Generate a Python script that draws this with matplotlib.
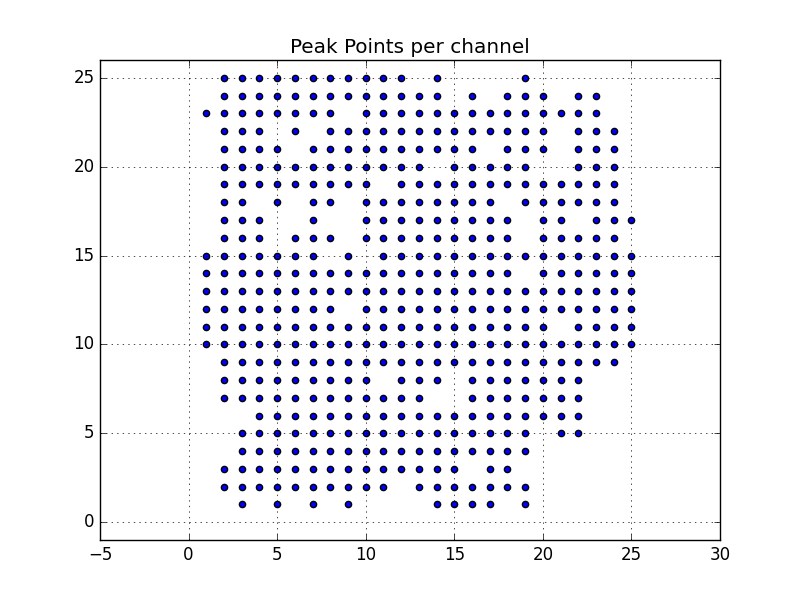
import matplotlib
matplotlib.use("Agg")
import matplotlib.pyplot as plt

plt.style.use('classic')

# x channel values present in each y row
row_y = list(range(25, 0, -1))
row_x = {
    25: [2, 3, 4, 5, 6, 7, 8, 9, 10, 11, 12, 14, 19],
    24: [2, 3, 4, 5, 6, 7, 8, 9, 10, 11, 12, 13, 14, 16, 18, 19, 20, 22, 23],
    23: [1, 2, 3, 4, 5, 6, 7, 8, 10, 11, 12, 13, 14, 15, 16, 17, 18, 19, 20, 21, 22, 23],
    22: [2, 3, 4, 6, 8, 9, 10, 11, 12, 13, 14, 15, 16, 17, 18, 19, 20, 22, 23, 24],
    21: [2, 3, 4, 5, 7, 8, 9, 10, 11, 12, 13, 14, 15, 16, 18, 19, 20, 22, 23, 24],
    20: [2, 3, 4, 5, 6, 7, 8, 9, 10, 11, 12, 13, 15, 16, 17, 18, 19, 22, 23, 24],
    19: [2, 3, 4, 5, 6, 7, 8, 9, 10, 12, 13, 14, 15, 16, 17, 18, 19, 20, 21, 22, 23, 24],
    18: [2, 3, 5, 7, 8, 10, 11, 12, 13, 14, 15, 16, 17, 19, 20, 21, 22, 23, 24],
    17: [2, 3, 4, 7, 10, 11, 12, 13, 14, 15, 16, 17, 18, 20, 21, 23, 24, 25],
    16: [2, 3, 4, 6, 7, 8, 10, 11, 12, 13, 14, 15, 16, 17, 18, 20, 21, 22, 23, 24],
    15: [1, 2, 3, 4, 5, 6, 7, 9, 11, 12, 13, 14, 15, 16, 17, 18, 19, 20, 21, 22, 23, 24, 25],
    14: [1, 2, 3, 4, 5, 6, 7, 8, 9, 10, 11, 12, 13, 14, 15, 16, 17, 18, 20, 21, 22, 23, 24, 25],
    13: [1, 2, 3, 4, 5, 6, 7, 8, 9, 10, 11, 12, 13, 14, 15, 16, 17, 18, 19, 20, 21, 22, 23, 24, 25],
    12: [1, 2, 3, 4, 5, 6, 7, 8, 10, 11, 12, 13, 14, 15, 16, 17, 18, 19, 20, 21, 22, 23, 24, 25],
    11: [1, 2, 3, 4, 5, 6, 7, 8, 9, 10, 11, 12, 13, 14, 15, 16, 17, 18, 19, 20, 22, 23, 24, 25],
    10: [1, 2, 3, 4, 5, 6, 7, 8, 9, 10, 11, 12, 13, 14, 15, 16, 17, 18, 19, 20, 21, 22, 23, 24, 25],
    9: [2, 3, 4, 5, 6, 7, 8, 9, 10, 11, 12, 13, 14, 15, 16, 17, 18, 19, 20, 21, 22, 23, 24],
    8: [2, 3, 4, 5, 6, 7, 8, 9, 10, 12, 13, 14, 16, 17, 18, 19, 20, 21, 22],
    7: [2, 3, 4, 5, 6, 7, 8, 9, 10, 11, 12, 13, 16, 17, 18, 19, 20, 21, 22],
    6: [4, 5, 6, 7, 8, 9, 10, 11, 12, 13, 14, 15, 16, 17, 18, 19, 20, 21, 22],
    5: [3, 4, 5, 6, 7, 8, 9, 10, 11, 12, 13, 14, 15, 16, 17, 18, 19, 21, 22],
    4: [3, 4, 5, 6, 7, 8, 9, 10, 11, 12, 13, 14, 15, 16, 17, 18, 19],
    3: [2, 3, 4, 5, 6, 7, 8, 9, 10, 11, 12, 13, 14, 15, 17, 18],
    2: [2, 3, 4, 5, 6, 7, 8, 9, 10, 11, 13, 14, 15, 16, 17, 18, 19],
    1: [3, 5, 7, 9, 14, 15, 16, 17, 19],
}

title = "Peak Points per channel"
x_ticks = [-5, 0, 5, 10, 15, 20, 25, 30]
y_ticks = [0, 5, 10, 15, 20, 25]

xs, ys = [], []
for yv in row_y:
    for xv in row_x[yv]:
        xs.append(xv)
        ys.append(yv)

fig = plt.figure(figsize=(8, 6), dpi=100)
ax = fig.add_subplot(111)
ax.scatter(xs, ys, s=20, c='b', edgecolors='k', linewidths=1.0)
ax.set_xlim(-5, 30)
ax.set_ylim(-1, 26)
ax.set_xticks(x_ticks)
ax.set_yticks(y_ticks)
ax.grid(True, linestyle=':', color='k', linewidth=0.5)
ax.set_title(title)
fig.savefig("out.png", dpi=100)
